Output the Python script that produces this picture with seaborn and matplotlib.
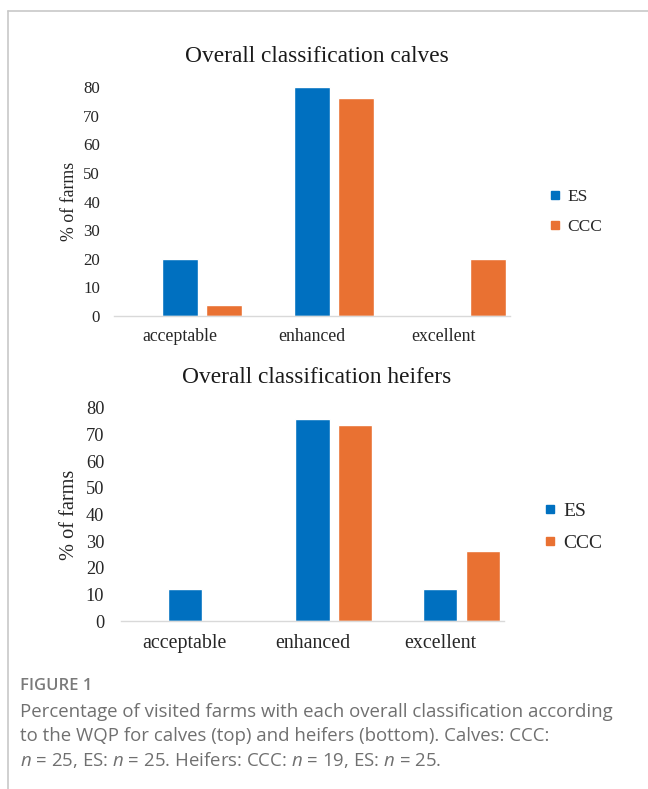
import pandas as pd
import matplotlib
matplotlib.use("Agg")
import matplotlib.pyplot as plt
from matplotlib.lines import Line2D
import seaborn as sns

# Data (percent of farms)
categories = ["acceptable", "enhanced", "excellent"]
groups = ["ES", "CCC"]
calves_es = [20, 80, 0]
calves_ccc = [4, 76, 20]
heifers_es = [12, 76, 12]
heifers_ccc = [0, 73.7, 26.3]
y_ticks = [0, 10, 20, 30, 40, 50, 60, 70, 80]

# Excel chart had an empty first series, so keep a blank slot in the hue order
hue_order = [""] + groups
colors = {"": "white", "ES": "#0070C0", "CCC": "#E97132"}


def long_table(es, ccc):
    return pd.DataFrame({
        "classification": categories * 2,
        "group": ["ES"] * len(es) + ["CCC"] * len(ccc),
        "pct": es + ccc,
    })


sns.set_style("white")
plt.rcParams["font.family"] = ["Liberation Serif", "DejaVu Serif"]
plt.rcParams["mathtext.fontset"] = "custom"
plt.rcParams["mathtext.it"] = "Open Sans:italic"
plt.rcParams["mathtext.rm"] = "Open Sans"

fig = plt.figure(figsize=(6.48, 7.89), dpi=100)
W, H = 648, 789

# title, data, axes box (px), ytick/xtick/ylabel sizes, title y,
# ylabel pos, legend pos, legend size, ytick pad, xtick pad
panels = [
    ("Overall classification calves", long_table(calves_es, calves_ccc),
     (114, 87, 510, 316), 12.2, 12.8, 12.8, 57, (69, 201), (550, 212), 12.5, 10, 8.6),
    ("Overall classification heifers", long_table(heifers_es, heifers_ccc),
     (121, 408, 504, 621), 13.2, 14.3, 14.6, 377, (70, 515), (544, 527), 14, 12, 9.4),
]

for (title, df, box, ysize, xsize, labsize, ty, ylab, leg, legsize,
     ypad, xpad) in panels:
    x0, y0, x1, y1 = box
    ax = fig.add_axes([x0 / W, 1 - y1 / H, (x1 - x0) / W, (y1 - y0) / H])
    sns.barplot(data=df, x="classification", y="pct", hue="group",
                order=categories, hue_order=hue_order, palette=colors,
                width=1.0, gap=0.2, saturation=1, errorbar=None,
                legend=False, ax=ax)
    ax.set_xlim(-0.5, 2.5)
    ax.set_ylim(0, 80)
    ax.set_yticks(y_ticks)
    ax.set_xlabel("")
    ax.set_ylabel("")
    for s in ["top", "right", "left"]:
        ax.spines[s].set_visible(False)
    ax.spines["bottom"].set_color("#d9d9d9")
    ax.spines["bottom"].set_linewidth(1.0)
    ax.tick_params(axis="y", length=0, labelsize=ysize, pad=ypad)
    ax.tick_params(axis="x", length=0, labelsize=xsize, pad=xpad)

    fig.text(317 / W, 1 - ty / H, title, ha="center", va="center",
             fontsize=16.8, color="#1a1a1a")
    fig.text(ylab[0] / W, 1 - ylab[1] / H, "% of farms", rotation=90,
             ha="center", va="center", fontsize=labsize, color="#262626")

    handles = [Line2D([], [], marker="s", linestyle="", markersize=6,
                      color=colors[g]) for g in groups]
    fig.legend(handles, groups, loc="center left",
               bbox_to_anchor=(leg[0] / W, 1 - leg[1] / H),
               frameon=False, fontsize=legsize, handlelength=0.6,
               handletextpad=0.4, labelspacing=0.75, borderpad=0,
               borderaxespad=0)

# card border (top and left edges)
fig.add_artist(Line2D([8 / W, 1], [1 - 11 / H, 1 - 11 / H],
                      transform=fig.transFigure, color="#c8c8c8", lw=1.2))
fig.add_artist(Line2D([8 / W, 8 / W], [0, 1 - 11 / H],
                      transform=fig.transFigure, color="#c8c8c8", lw=1.2))

# caption
fig.text(20 / W, 1 - 686 / H, "FIGURE 1", fontfamily="Open Sans",
         fontweight="semibold", fontsize=12, color="#7a7a7a", va="center")
caption = [
    "Percentage of visited farms with each overall classification according",
    "to the WQP for calves (top) and heifers (bottom). Calves: CCC:",
    "$n$ = 25, ES: $n$ = 25. Heifers: CCC: $n$ = 19, ES: $n$ = 25.",
]
for i, line in enumerate(caption):
    fig.text(20 / W, 1 - (712 + 24 * i) / H, line, fontfamily="Open Sans",
             fontsize=13.4, color="#707070", va="center")

plt.savefig("out.png", dpi=100)
